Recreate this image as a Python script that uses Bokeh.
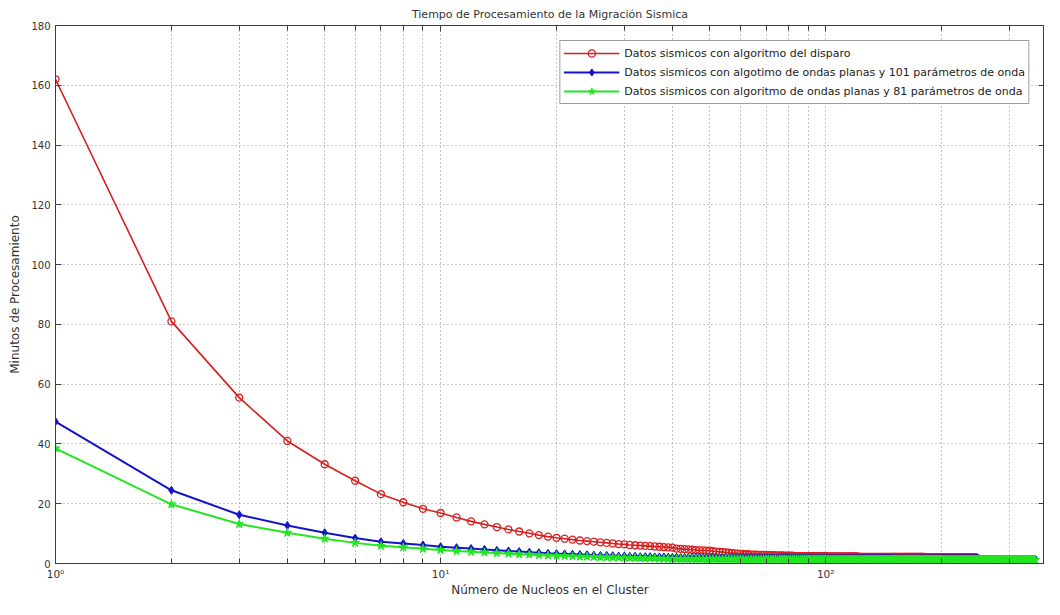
from bokeh.plotting import figure
from bokeh.models import FixedTicker, LogAxis, LinearAxis, Range1d, Legend
from bokeh.embed import file_html
from bokeh.resources import INLINE

# ---------------- data ----------------
title_text = "Tiempo de Procesamiento de la Migración Sismica"
x_label = "Número de Nucleos en el Cluster"
y_label = "Minutos de Procesamiento"
series_labels = [
    "Datos sismicos con algoritmo del disparo",
    "Datos sismicos con algotimo de ondas planas y 101 parámetros de onda",
    "Datos sismicos con algoritmo de ondas planas y 81 parámetros de onda",
]

x_major = [1, 10, 100]
x_minor = [2, 3, 4, 5, 6, 7, 8, 9, 20, 30, 40, 50, 60, 70, 80, 90, 200, 300, 400]
x_tick_labels = {1: "10⁰", 10: "10¹", 100: "10²"}
y_ticks = [0, 20, 40, 60, 80, 100, 120, 140, 160, 180]

red_min = [
    162, 81, 55.5, 41, 33.2, 27.7, 23.2, 20.5, 18.3, 16.9,
    15.4, 14.1, 13.1, 12.2, 11.4, 10.7, 10.1, 9.5, 9.0, 8.6,
    8.3, 8.0, 7.7, 7.5, 7.3, 7.1, 6.9, 6.7, 6.5, 6.4,
    6.2, 6.1, 6.0, 5.9, 5.8, 5.7, 5.6, 5.5, 5.4, 5.3,
    5.0, 4.9, 4.8, 4.7, 4.6, 4.5, 4.4, 4.4, 4.3, 4.3,
    4.1, 4.0, 3.9, 3.8, 3.7, 3.6, 3.5, 3.4, 3.3, 3.2,
    3.2, 3.1, 3.1, 3.0, 3.0, 3.0, 2.9, 2.9, 2.9, 2.8,
    2.8, 2.8, 2.8, 2.7, 2.7, 2.7, 2.7, 2.6, 2.6, 2.6,
    2.6, 2.6, 2.5, 2.5, 2.5, 2.5, 2.5, 2.5, 2.5, 2.5,
    2.5, 2.5, 2.5, 2.5, 2.5, 2.5, 2.5, 2.5, 2.5, 2.5,
    2.4, 2.4, 2.4, 2.4, 2.4, 2.4, 2.4, 2.4, 2.4, 2.4,
    2.4, 2.4, 2.4, 2.4, 2.4, 2.4, 2.4, 2.4, 2.4, 2.4,
    2.3, 2.3, 2.2, 2.2, 2.2, 2.2, 2.2, 2.2, 2.2, 2.2,
    2.2, 2.2, 2.2, 2.2, 2.2, 2.2, 2.2, 2.2, 2.2, 2.2,
    2.2, 2.2, 2.2, 2.2, 2.2, 2.2, 2.2, 2.2, 2.2, 2.2,
    2.2, 2.2, 2.2, 2.2, 2.2, 2.2, 2.2, 2.2, 2.2, 2.2,
    2.2, 2.2, 2.2, 2.2, 2.2, 2.2, 2.2, 2.2, 2.2, 2.2,
    2.2, 2.2, 2.2, 2.2, 2.2, 2.2, 2.2, 2.2, 2.2, 2.2,
    2.1, 2.1, 2.1, 2.1, 2.1, 2.1, 2.1, 2.1, 2.1, 2.1,
    2.1, 2.1, 2.1, 2.1, 2.1, 2.1, 2.1, 2.1, 2.1, 2.1,
    2.1, 2.1, 2.1, 2.1, 2.1, 2.1, 2.1, 2.1, 2.1, 2.1,
    2.1, 2.1, 2.1, 2.1, 2.1, 2.1, 2.1, 2.1, 2.1, 2.1,
    2.1, 2.1, 2.1, 2.1, 2.1, 2.1, 2.1, 2.1, 2.1, 2.1,
    2.1, 2.1, 2.1, 2.1, 2.1, 2.1, 2.1, 2.1, 2.1, 2.1,
    2.1, 2.1, 2.1, 2.1, 2.1,
]

blue_min = [
    47.5, 24.5, 16.3, 12.7, 10.3, 8.5, 7.3, 6.7, 6.2, 5.6,
    5.3, 5.0, 4.7, 4.4, 4.2, 4.0, 3.8, 3.6, 3.4, 3.3,
    3.2, 3.1, 3.0, 2.9, 2.8, 2.7, 2.7, 2.6, 2.5, 2.5,
    2.4, 2.4, 2.3, 2.3, 2.3, 2.2, 2.2, 2.2, 2.1, 2.1,
    2.1, 2.0, 2.0, 2.0, 2.0, 2.0, 2.0, 2.0, 2.0, 2.0,
    2.0, 2.0, 2.0, 2.0, 2.0, 2.0, 2.0, 2.0, 2.0, 2.0,
    1.9, 1.9, 1.9, 1.9, 1.9, 1.9, 1.9, 1.9, 1.9, 1.9, 1.9, 1.9, 1.9, 1.9, 1.9, 1.9, 1.9, 1.9, 1.9, 1.9,
    1.8, 1.8, 1.8, 1.8, 1.8, 1.8, 1.8, 1.8, 1.8, 1.8, 1.8, 1.8, 1.8, 1.8, 1.8, 1.8, 1.8, 1.8, 1.8, 1.8,
    1.7, 1.7, 1.7, 1.7, 1.7, 1.7, 1.7, 1.7, 1.7, 1.7, 1.7, 1.7, 1.7, 1.7, 1.7, 1.7, 1.7, 1.7, 1.7, 1.7,
    1.7, 1.7, 1.7, 1.7, 1.7, 1.7, 1.7, 1.7, 1.7, 1.7, 1.7, 1.7, 1.7, 1.7, 1.7, 1.7, 1.7, 1.7, 1.7, 1.7,
    1.7, 1.7, 1.7, 1.7, 1.7, 1.7, 1.7, 1.7, 1.7, 1.7,
    1.6, 1.6, 1.6, 1.6, 1.6, 1.6, 1.6, 1.6, 1.6, 1.6, 1.6, 1.6, 1.6, 1.6, 1.6, 1.6, 1.6, 1.6, 1.6, 1.6,
    1.6, 1.6, 1.6, 1.6, 1.6, 1.6, 1.6, 1.6, 1.6, 1.6, 1.6, 1.6, 1.6, 1.6, 1.6, 1.6, 1.6, 1.6, 1.6, 1.6,
    1.6, 1.6, 1.6, 1.6, 1.6, 1.6, 1.6, 1.6, 1.6, 1.6, 1.6, 1.6, 1.6, 1.6, 1.6, 1.6, 1.6, 1.6, 1.6, 1.6,
    1.6, 1.6, 1.6, 1.6, 1.6, 1.6, 1.6, 1.6, 1.6, 1.6, 1.6, 1.6, 1.6, 1.6, 1.6, 1.6, 1.6, 1.6, 1.6, 1.6,
    1.6, 1.6, 1.6, 1.6, 1.6, 1.6, 1.6, 1.6, 1.6, 1.6, 1.6, 1.6, 1.6, 1.6, 1.6, 1.6, 1.6, 1.6, 1.6, 1.6,
    1.5, 1.5, 1.5, 1.5, 1.5, 1.5, 1.5, 1.5, 1.5, 1.5, 1.5, 1.5, 1.5, 1.5, 1.5, 1.5, 1.5, 1.5, 1.5, 1.5,
    1.5, 1.5, 1.5, 1.5, 1.5, 1.5, 1.5, 1.5, 1.5, 1.5, 1.5, 1.5, 1.5, 1.5, 1.5, 1.5, 1.5, 1.5, 1.5, 1.5,
    1.5, 1.5, 1.5, 1.5, 1.5, 1.5, 1.5, 1.5, 1.5, 1.5, 1.5, 1.5, 1.5, 1.5, 1.5, 1.5, 1.5, 1.5, 1.5, 1.5,
    1.5, 1.5, 1.5, 1.5, 1.5, 1.5, 1.5, 1.5, 1.5, 1.5, 1.5, 1.5, 1.5, 1.5, 1.5, 1.5, 1.5, 1.5, 1.5, 1.5,
    1.5, 1.5, 1.5, 1.5, 1.5, 1.5, 1.5, 1.5, 1.5, 1.5, 1.5, 1.5, 1.5, 1.5, 1.5, 1.5, 1.5, 1.5, 1.5, 1.5,
]

green_min = [
    38.5, 19.8, 13.2, 10.3, 8.3, 6.9, 5.9, 5.4, 4.9, 4.5,
    4.2, 3.9, 3.7, 3.5, 3.3, 3.1, 3.0, 2.8, 2.7, 2.6,
    2.5, 2.4, 2.3, 2.3, 2.2, 2.1, 2.1, 2.0, 2.0, 1.9,
    1.9, 1.8, 1.8, 1.7, 1.7, 1.7, 1.6, 1.6, 1.6, 1.5,
    1.5, 1.5, 1.5, 1.5, 1.5, 1.5, 1.5, 1.5, 1.5, 1.5, 1.5, 1.5, 1.5, 1.5, 1.5, 1.5, 1.5, 1.5, 1.5, 1.5,
    1.4, 1.4, 1.4, 1.4, 1.4, 1.4, 1.4, 1.4, 1.4, 1.4, 1.4, 1.4, 1.4, 1.4, 1.4, 1.4, 1.4, 1.4, 1.4, 1.4,
    1.4, 1.4, 1.4, 1.4, 1.4, 1.4, 1.4, 1.4, 1.4, 1.4, 1.4, 1.4, 1.4, 1.4, 1.4, 1.4, 1.4, 1.4, 1.4, 1.4,
    1.3, 1.3, 1.3, 1.3, 1.3, 1.3, 1.3, 1.3, 1.3, 1.3, 1.3, 1.3, 1.3, 1.3, 1.3, 1.3, 1.3, 1.3, 1.3, 1.3,
    1.3, 1.3, 1.3, 1.3, 1.3, 1.3, 1.3, 1.3, 1.3, 1.3, 1.3, 1.3, 1.3, 1.3, 1.3, 1.3, 1.3, 1.3, 1.3, 1.3,
    1.3, 1.3, 1.3, 1.3, 1.3, 1.3, 1.3, 1.3, 1.3, 1.3, 1.3, 1.3, 1.3, 1.3, 1.3, 1.3, 1.3, 1.3, 1.3, 1.3,
    1.3, 1.3, 1.3, 1.3, 1.3, 1.3, 1.3, 1.3, 1.3, 1.3, 1.3, 1.3, 1.3, 1.3, 1.3, 1.3, 1.3, 1.3, 1.3, 1.3,
    1.3, 1.3, 1.3, 1.3, 1.3, 1.3, 1.3, 1.3, 1.3, 1.3, 1.3, 1.3, 1.3, 1.3, 1.3, 1.3, 1.3, 1.3, 1.3, 1.3,
    1.2, 1.2, 1.2, 1.2, 1.2, 1.2, 1.2, 1.2, 1.2, 1.2, 1.2, 1.2, 1.2, 1.2, 1.2, 1.2, 1.2, 1.2, 1.2, 1.2,
    1.2, 1.2, 1.2, 1.2, 1.2, 1.2, 1.2, 1.2, 1.2, 1.2, 1.2, 1.2, 1.2, 1.2, 1.2, 1.2, 1.2, 1.2, 1.2, 1.2,
    1.2, 1.2, 1.2, 1.2, 1.2, 1.2, 1.2, 1.2, 1.2, 1.2, 1.2, 1.2, 1.2, 1.2, 1.2, 1.2, 1.2, 1.2, 1.2, 1.2,
    1.2, 1.2, 1.2, 1.2, 1.2, 1.2, 1.2, 1.2, 1.2, 1.2, 1.2, 1.2, 1.2, 1.2, 1.2, 1.2, 1.2, 1.2, 1.2, 1.2,
    1.2, 1.2, 1.2, 1.2, 1.2, 1.2, 1.2, 1.2, 1.2, 1.2, 1.2, 1.2, 1.2, 1.2, 1.2, 1.2, 1.2, 1.2, 1.2, 1.2,
    1.2, 1.2, 1.2, 1.2, 1.2, 1.2, 1.2, 1.2, 1.2, 1.2, 1.2, 1.2, 1.2, 1.2, 1.2, 1.2, 1.2, 1.2, 1.2, 1.2,
    1.2, 1.2, 1.2, 1.2, 1.2, 1.2, 1.2, 1.2, 1.2, 1.2, 1.2, 1.2, 1.2, 1.2, 1.2, 1.2, 1.2, 1.2, 1.2, 1.2,
    1.2, 1.2, 1.2, 1.2, 1.2, 1.2, 1.2, 1.2, 1.2, 1.2,
]

n_red = list(range(1, len(red_min) + 1))
n_blue = list(range(1, len(blue_min) + 1))
n_green = list(range(1, len(green_min) + 1))

# ---------------- figure ----------------
FONT = "DejaVu Sans"
TXT = "#333333"
FRAME = "#3c3c3c"
GRID = "#8a8a8a"

p = figure(width=1044, height=599, x_axis_type="log",
           x_range=Range1d(1, 370), y_range=Range1d(0, 180),
           output_backend="svg", toolbar_location=None,
           min_border_left=55, min_border_right=0,
           min_border_top=0, min_border_bottom=33)

p.title.text = title_text
p.title.align = "center"
p.title.text_font = FONT
p.title.text_font_size = "11px"
p.title.text_font_style = "normal"
p.title.text_color = TXT
p.title.standoff = 10

p.outline_line_color = FRAME
p.outline_line_width = 1

xt = FixedTicker(ticks=x_major, minor_ticks=x_minor)
yt = FixedTicker(ticks=y_ticks)

ax = p.xaxis[0]
ax.ticker = xt
ax.major_label_overrides = x_tick_labels
ay = p.yaxis[0]
ay.ticker = yt

for a in (ax, ay):
    a.axis_line_color = FRAME
    a.major_tick_line_color = FRAME
    a.minor_tick_line_color = FRAME
    a.major_tick_in = 6
    a.major_tick_out = 0
    a.minor_tick_in = 5
    a.minor_tick_out = 0
    a.major_label_text_font = FONT
    a.major_label_text_font_size = "10px"
    a.major_label_text_color = TXT
    a.axis_label_text_font = FONT
    a.axis_label_text_font_size = "12px"
    a.axis_label_text_font_style = "normal"
    a.axis_label_text_color = TXT

ax.axis_label = x_label
ax.major_label_text_font_size = "10.5px"
ax.major_label_standoff = 4
ax.axis_label_standoff = 0
ay.axis_label = y_label
ay.major_label_standoff = 5
ay.axis_label_standoff = 6
ay.minor_tick_line_color = None

# mirrored tick marks (MATLAB box)
top = LogAxis(ticker=xt, major_label_text_font_size="1px", major_label_text_color=None,
              major_label_standoff=0,
              axis_line_color=FRAME, major_tick_line_color=FRAME, minor_tick_line_color=FRAME,
              major_tick_in=6, major_tick_out=0, minor_tick_in=5, minor_tick_out=0)
p.add_layout(top, "above")
right = LinearAxis(ticker=yt, major_label_text_font_size="1px", major_label_text_color=None,
                   major_label_standoff=0,
                   axis_line_color=FRAME, major_tick_line_color=FRAME, minor_tick_line_color=None,
                   major_tick_in=6, major_tick_out=0)
p.add_layout(right, "right")

for g in (p.xgrid[0], p.ygrid[0]):
    g.grid_line_color = GRID
    g.grid_line_dash = "1 3"
    g.grid_line_width = 1
p.xgrid[0].ticker = xt
p.xgrid[0].minor_grid_line_color = GRID
p.xgrid[0].minor_grid_line_dash = "1 3"
p.ygrid[0].ticker = yt

RED = "#d81e1e"
BLUE = "#1414c8"
GREEN = "#22e622"

r_l = p.line(n_red, red_min, line_color=RED, line_width=1.6)
r_m = p.scatter(n_red, red_min, marker="circle", size=7, line_color=RED, line_width=1.3,
                fill_color=None)
b_l = p.line(n_blue, blue_min, line_color=BLUE, line_width=2)
b_m = p.scatter(n_blue, blue_min, marker="diamond", size=8, line_color=BLUE, fill_color=BLUE)
g_l = p.line(n_green, green_min, line_color=GREEN, line_width=2)
g_m = p.scatter(n_green, green_min, marker="star", size=9, line_color=GREEN, fill_color=GREEN)

legend = Legend(items=[(series_labels[0], [r_l, r_m]),
                       (series_labels[1], [b_l, b_m]),
                       (series_labels[2], [g_l, g_m])],
                location="top_right")
legend.margin = 15
legend.padding = 3
legend.spacing = 1
legend.glyph_width = 56
legend.glyph_height = 18
legend.label_height = 18
legend.label_standoff = 5
legend.label_text_font = FONT
legend.label_text_font_size = "11px"
legend.label_text_color = "#222222"
legend.border_line_color = FRAME
legend.border_line_width = 1
legend.background_fill_color = "white"
legend.background_fill_alpha = 1
p.add_layout(legend, "center")

open("out.html", "w").write(file_html(p, INLINE))
